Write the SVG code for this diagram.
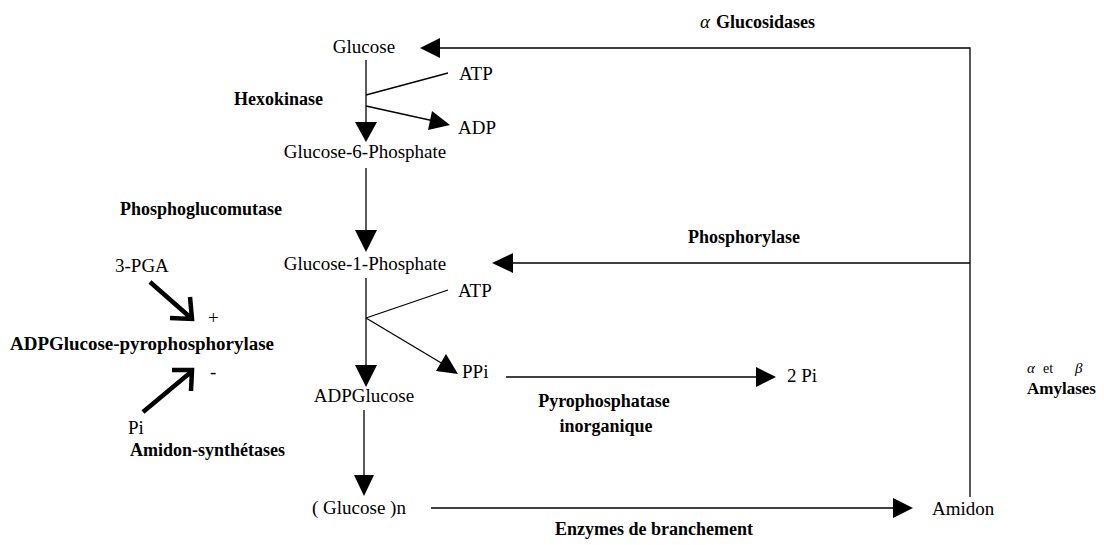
<svg xmlns="http://www.w3.org/2000/svg" width="1104" height="545" viewBox="0 0 1104 545" font-family="'Liberation Serif', 'Times New Roman', serif">
  <style>
    text { font-family: "Liberation Serif", "Times New Roman", serif; font-size: 19px; fill: #000; }
    .b { font-weight: bold; font-size: 18px; }
    .c { text-anchor: middle; }
    .g { font-style: italic; }
    .ln { stroke: #000; stroke-width: 1.3; fill: none; }
    .thick { stroke: #000; stroke-width: 4.5; fill: none; stroke-linecap: butt; stroke-linejoin: miter; }
    .head { fill: #000; stroke: none; }
  </style>
  <rect width="1104" height="545" fill="#fff"/>

  <!-- metabolites -->
  <g id="glucose"><text class="c" x="364" y="53">Glucose</text></g>
  <g id="atp1"><text x="459" y="80">ATP</text></g>
  <g id="adp"><text x="458" y="134">ADP</text></g>
  <g id="g6p"><text class="c" x="365" y="158">Glucose-6-Phosphate</text></g>
  <g id="g1p"><text class="c" x="365" y="270">Glucose-1-Phosphate</text></g>
  <g id="atp2"><text x="458" y="297">ATP</text></g>
  <g id="ppi"><text x="462" y="378">PPi</text></g>
  <g id="pi2"><text x="787" y="382">2 Pi</text></g>
  <g id="adpglucose"><text class="c" x="364" y="402">ADPGlucose</text></g>
  <g id="glucose-n"><text x="312" y="514">( Glucose )n</text></g>
  <g id="amidon"><text x="932" y="515">Amidon</text></g>
  <g id="pga"><text x="115" y="272">3-PGA</text></g>
  <g id="pi"><text x="128" y="434">Pi</text></g>

  <!-- enzymes -->
  <g id="hexokinase"><text class="b" x="234" y="105">Hexokinase</text></g>
  <g id="phosphoglucomutase"><text class="b" x="120" y="215">Phosphoglucomutase</text></g>
  <g id="phosphorylase"><text class="b" x="688" y="243">Phosphorylase</text></g>
  <g id="glucosidases">
    <text class="g" x="700" y="28">α</text>
    <text class="b" x="716" y="28">Glucosidases</text>
  </g>
  <g id="pyrophosphatase">
    <text class="b c" x="604" y="407">Pyrophosphatase</text>
    <text class="b c" x="606" y="432">inorganique</text>
  </g>
  <g id="branchement"><text class="b c" x="654" y="535">Enzymes de branchement</text></g>
  <g id="amylases">
    <text class="g" x="1027" y="373" style="font-size:15px">α</text>
    <text x="1043" y="373" style="font-size:14px">et</text>
    <text class="g" x="1075" y="373" style="font-size:15px">β</text>
    <text class="b" x="1027" y="394" style="font-size:17px">Amylases</text>
  </g>
  <g id="adpg-pyrophosphorylase">
    <text class="b" x="10" y="350" textLength="264" lengthAdjust="spacingAndGlyphs">ADPGlucose-pyrophosphorylase</text>
    <text x="208" y="324">+</text>
    <text x="210" y="378">-</text>
  </g>
  <g id="amidon-synthetases"><text class="b" x="130" y="456">Amidon-synthétases</text></g>

  <!-- connectors -->
  <g id="connectors">
    <!-- main chain -->
    <line class="ln" x1="366" y1="60" x2="366" y2="123"/>
    <polygon class="head" points="355,122 377,122 366,142"/>
    <line class="ln" x1="366" y1="168" x2="366" y2="231"/>
    <polygon class="head" points="355,230 377,230 366,252"/>
    <line class="ln" x1="366" y1="278" x2="366" y2="366"/>
    <polygon class="head" points="355,365 377,365 366,387"/>
    <line class="ln" x1="364" y1="410" x2="364" y2="476"/>
    <polygon class="head" points="354,475 374,475 364,496"/>

    <!-- hexokinase co-substrates -->
    <line class="ln" x1="366" y1="95" x2="448" y2="73"/>
    <line class="ln" x1="366" y1="106" x2="434" y2="121"/>
    <polygon class="head" points="450,125 428,130 432,111"/>

    <!-- ADPGlucose pyrophosphorylase co-substrates -->
    <line class="ln" x1="366" y1="318" x2="448" y2="290"/>
    <line class="ln" x1="366" y1="318" x2="443" y2="364"/>
    <polygon class="head" points="458,374 436,371 446,354"/>

    <!-- pyrophosphatase -->
    <line class="ln" x1="506" y1="377" x2="757" y2="377"/>
    <polygon class="head" points="776,377 756,367 756,387"/>

    <!-- branching enzymes -->
    <line class="ln" x1="431" y1="508" x2="894" y2="508"/>
    <polygon class="head" points="913,508 893,498 893,518"/>

    <!-- degradation return loop -->
    <polyline class="ln" points="970,497 970,48 439,48"/>
    <polygon class="head" points="420,48 440,38 440,58"/>
    <line class="ln" x1="970" y1="263" x2="512" y2="263"/>
    <polygon class="head" points="492,263 513,253 513,273"/>

    <!-- effectors -->
    <path class="thick" d="M150,282 L191,318 M190,297 L192,319 L170,318"/>
    <path class="thick" d="M143,412 L191,372 M172,370 L192,370 L191,391"/>
  </g>
</svg>
